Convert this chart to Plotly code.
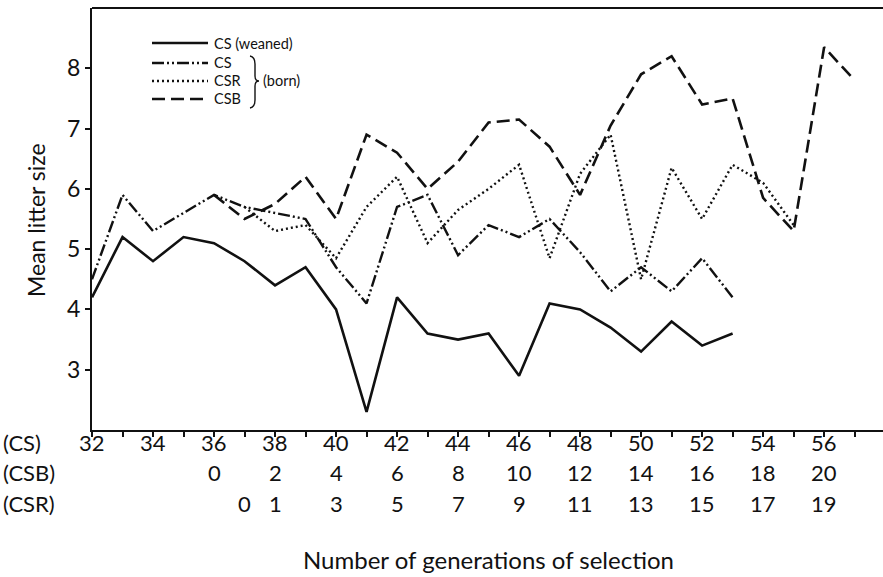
import plotly.graph_objects as go

# Generation numbers of the CS line (x axis)
gen_weaned = list(range(32, 54))
cs_weaned = [4.2, 5.2, 4.8, 5.2, 5.1, 4.8, 4.4, 4.7, 4.0, 2.3, 4.2, 3.6, 3.5, 3.6, 2.9, 4.1, 4.0, 3.7, 3.3, 3.8, 3.4, 3.6]

gen_cs_born = list(range(32, 54))
cs_born = [4.5, 5.9, 5.3, 5.6, 5.9, 5.7, 5.6, 5.5, 4.7, 4.1, 5.7, 5.9, 4.9, 5.4, 5.2, 5.5, 4.95, 4.3, 4.7, 4.3, 4.85, 4.2]

gen_csr = list(range(37, 56))
csr_born = [5.7, 5.3, 5.4, 4.85, 5.7, 6.2, 5.1, 5.65, 6.0, 6.4, 4.85, 6.25, 6.9, 4.5, 6.35, 5.5, 6.4, 6.1, 5.4]

gen_csb = list(range(36, 58))
csb_born = [5.9, 5.5, 5.75, 6.2, 5.5, 6.9, 6.6, 6.0, 6.45, 7.1, 7.15, 6.7, 5.9, 7.05, 7.9, 8.2, 7.4, 7.5, 5.85, 5.3, 8.35, 7.8]

# Tick label rows
cs_tick_gens = list(range(32, 58))
cs_row_gens = list(range(32, 57, 2))
cs_row_text = [str(g) for g in cs_row_gens]
csb_row_gens = list(range(36, 57, 2))
csb_row_text = [str(g - 36) for g in csb_row_gens]
csr_row_gens = [37] + list(range(38, 57, 2))
csr_row_text = [str(g - 37) for g in csr_row_gens]

y_ticks = [3, 4, 5, 6, 7, 8]

legend_names = ["CS (weaned)", "CS", "CSR", "CSB"]

FONT = "Lato"
black = "#111111"
dash_styles = ["solid", "12px,3px,2px,3px,2px,3px", "2px,3px", "13px,6px"]
widths = [2.6, 2.4, 2.4, 2.6]

fig = go.Figure()
for (gx, gy), name, d, w in zip([(gen_weaned, cs_weaned), (gen_cs_born, cs_born),
                                 (gen_csr, csr_born), (gen_csb, csb_born)],
                                legend_names, dash_styles, widths):
    fig.add_trace(go.Scatter(x=gx, y=gy, mode="lines", name=name,
                             line=dict(color=black, width=w, dash=d), showlegend=False))

L, R, T, B = 92, 0, 8, 147
W, H = 883, 577
pw, ph = W - L - R, H - T - B

def px_x(p):
    return (p - L) / pw

def px_y(p):
    return (H - B - p) / ph

annotations = []
def row(gens, texts, ypix):
    for g, t in zip(gens, texts):
        annotations.append(dict(x=g, xref="x", y=px_y(ypix), yref="paper", text=t, showarrow=False,
                                font=dict(family=FONT, size=22, color=black),
                                xanchor="center", yanchor="middle"))

row(cs_row_gens, cs_row_text, 442)
row(csb_row_gens, csb_row_text, 473)
row(csr_row_gens, csr_row_text, 504)

for lab, yy in [("(CS)", 442), ("(CSB)", 473), ("(CSR)", 504)]:
    annotations.append(dict(x=px_x(1), xref="paper", y=px_y(yy), yref="paper", text=lab, showarrow=False,
                            font=dict(family=FONT, size=22, color=black), xanchor="left", yanchor="middle"))
annotations.append(dict(x=px_x(488), xref="paper", y=px_y(559), yref="paper",
                        text="Number of generations of selection", showarrow=False,
                        font=dict(family=FONT, size=24, color=black), xanchor="center", yanchor="middle"))
annotations.append(dict(x=px_x(36), xref="paper", y=px_y(220), yref="paper",
                        text="Mean litter size", textangle=-90, showarrow=False,
                        font=dict(family=FONT, size=23, color=black), xanchor="center", yanchor="middle"))

# Legend (manual, to reproduce the compact layout and bracket)
legend_y = [43, 63, 81, 99]
shapes = [
    dict(type="line", xref="paper", yref="paper", x0=0, x1=1, y0=1, y1=1, line=dict(color=black, width=2)),
]
for name, d, w, ly in zip(legend_names, dash_styles, widths, legend_y):
    shapes.append(dict(type="line", xref="paper", yref="paper", x0=px_x(152), x1=px_x(208),
                       y0=px_y(ly), y1=px_y(ly), line=dict(color=black, width=w, dash=d)))
    annotations.append(dict(x=px_x(213), xref="paper", y=px_y(ly), yref="paper", text=name, showarrow=False,
                            borderpad=0, font=dict(family=FONT, size=14.5, color=black),
                            xanchor="left", yanchor="middle"))

annotations.append(dict(x=px_x(262), xref="paper", y=px_y(81), yref="paper", text="(born)", showarrow=False,
                        borderpad=0, font=dict(family=FONT, size=14.5, color=black),
                        xanchor="left", yanchor="middle"))
shapes.append(dict(type="path", xref="paper", yref="paper",
                   path=f"M {px_x(250)} {px_y(56)} Q {px_x(255)} {px_y(57)} {px_x(255)} {px_y(64)} "
                        f"L {px_x(255)} {px_y(76)} Q {px_x(255)} {px_y(81)} {px_x(259)} {px_y(81)} "
                        f"Q {px_x(255)} {px_y(81)} {px_x(255)} {px_y(86)} L {px_x(255)} {px_y(100)} "
                        f"Q {px_x(255)} {px_y(107)} {px_x(250)} {px_y(108)}",
                   line=dict(color=black, width=1.4)))

fig.update_layout(
    width=W, height=H,
    margin=dict(l=L, r=R, t=T, b=B),
    paper_bgcolor="white", plot_bgcolor="white",
    font=dict(family=FONT, color=black),
    showlegend=False,
    xaxis=dict(range=[32, 57.93], tickmode="array", tickvals=cs_tick_gens, showticklabels=False,
               ticks="outside", ticklen=5, tickwidth=1.5, tickcolor=black,
               showline=True, linecolor=black, linewidth=2, showgrid=False, zeroline=False),
    yaxis=dict(range=[2, 9], tickvals=y_ticks, ticks="outside", ticklen=5, tickwidth=1.5, tickcolor=black,
               showline=True, linecolor=black, linewidth=2, showgrid=False, zeroline=False,
               tickfont=dict(family=FONT, size=23, color=black)),
    annotations=annotations,
    shapes=shapes,
)

fig.write_html("out.html", config={"displayModeBar": False},
               post_script="document.body.style.margin='0';document.body.style.padding='0';")
